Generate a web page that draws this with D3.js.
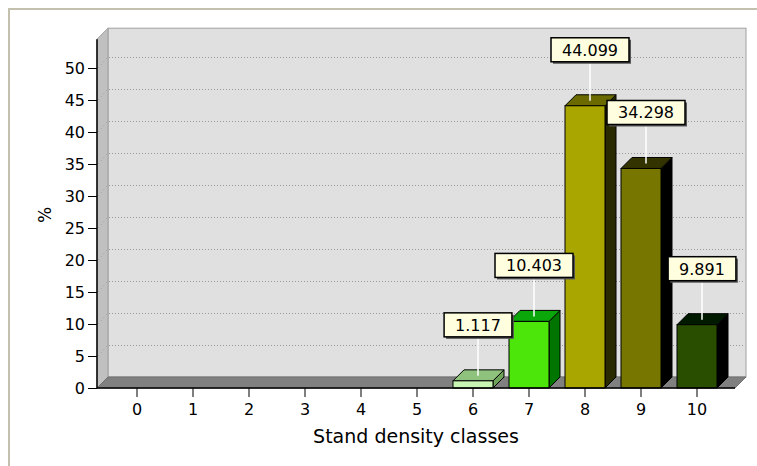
<!DOCTYPE html>
<html><head><meta charset="utf-8">
<script src="https://cdn.jsdelivr.net/npm/d3@7"></script>
<style>
html,body{margin:0;padding:0;background:#fff;}
text{font-family:"DejaVu Sans",sans-serif;fill:#000;}
</style></head>
<body>
<svg id="chart" width="757" height="466"></svg>
<script>
const categories = ["0","1","2","3","4","5","6","7","8","9","10"];
const values = [0,0,0,0,0,0,1.117,10.403,44.099,34.298,9.891];
const valueLabels = ["","","","","","","1.117","10.403","44.099","34.298","9.891"];
const yTicks = [0,5,10,15,20,25,30,35,40,45,50];
const frontColors = ["#ccc","#ccc","#ccc","#ccc","#ccc","#ccc","#c8f4b4","#4ce60a","#aaa600","#767600","#2a4e00"];
const topColors   = ["#999","#999","#999","#999","#999","#999","#8fc27c","#0aa60a","#6a6a00","#333300","#001a00"];
const sideColors  = ["#777","#777","#777","#777","#777","#777","#6ea45a","#007600","#2a2a00","#000000","#000000"];
const xTitle = "Stand density classes";
const yTitle = "%";

const svg = d3.select("#chart");
const D = 11;               // 3D depth
const axisX = 97, floorY = 388;
const x = d3.scaleBand().domain(categories).range([109, 725]);
const y = d3.scaleLinear().domain([0, 50]).range([floorY, 68]);
const yTop = y(54.5);
const xRight = 735;
const barW = 40;

// outer frame
svg.append("rect").attr("x",9).attr("y",9).attr("width",760).attr("height",470)
  .attr("fill","none").attr("stroke","#c4c0ae").attr("stroke-width",2);

// back wall
svg.append("rect").attr("x",axisX+D).attr("y",yTop-D)
  .attr("width",xRight-axisX).attr("height",floorY-yTop)
  .attr("fill","#e0e0e0").attr("stroke","#a0a0a0").attr("stroke-width",1);
// side wall
svg.append("polygon")
  .attr("points",[[axisX,floorY],[axisX,yTop],[axisX+D,yTop-D],[axisX+D,floorY-D]].join(" "))
  .attr("fill","#c0c0c0").attr("stroke","#a0a0a0").attr("stroke-width",1);
// floor
svg.append("polygon")
  .attr("points",[[axisX,floorY],[xRight,floorY],[xRight+D,floorY-D],[axisX+D,floorY-D]].join(" "))
  .attr("fill","#808080").attr("stroke","#707070").attr("stroke-width",1);

// gridlines
yTicks.filter(t=>t>0).forEach(t=>{
  svg.append("line").attr("x1",axisX+D+1).attr("x2",xRight+D-1)
    .attr("y1",y(t)-D+0.5).attr("y2",y(t)-D+0.5)
    .attr("stroke","#999").attr("stroke-dasharray","1,2");
  svg.append("line").attr("x1",axisX+1).attr("x2",axisX+D)
    .attr("y1",y(t)).attr("y2",y(t)-D)
    .attr("stroke","#999").attr("stroke-dasharray","1,3");
});

// bars
categories.forEach((c,i)=>{
  const v = values[i];
  if (v <= 0) return;
  const cx = x(c) + x.bandwidth()/2;
  const l = cx - barW/2, r = cx + barW/2, t = y(v);
  svg.append("polygon")
    .attr("points",[[r,t],[r+D,t-D],[r+D,floorY-D],[r,floorY]].join(" "))
    .attr("fill",sideColors[i]).attr("stroke","#000").attr("stroke-width",1);
  svg.append("polygon")
    .attr("points",[[l,t],[r,t],[r+D,t-D],[l+D,t-D]].join(" "))
    .attr("fill",topColors[i]).attr("stroke","#000").attr("stroke-width",1);
  svg.append("rect").attr("x",l).attr("y",t).attr("width",barW).attr("height",floorY-t)
    .attr("fill",frontColors[i]).attr("stroke","#000").attr("stroke-width",1);
});

// axes
const yAxis = d3.axisLeft(y).tickValues(yTicks).tickSize(9).tickPadding(3);
const gy = svg.append("g").attr("transform",`translate(${axisX},0)`).call(yAxis);
gy.select(".domain").remove();
gy.selectAll("text").style("font-size","16px").style("font-family","DejaVu Sans");
svg.append("line").attr("x1",axisX).attr("x2",axisX).attr("y1",yTop).attr("y2",floorY+0.5)
  .attr("stroke","#000").attr("stroke-width",1.5);

const xAxis = d3.axisBottom(x).tickSize(9).tickPadding(7);
const gx = svg.append("g").attr("transform",`translate(0,${floorY})`).call(xAxis);
gx.select(".domain").remove();
gx.selectAll("text").style("font-size","16px").style("font-family","DejaVu Sans");
svg.append("line").attr("x1",axisX).attr("x2",xRight).attr("y1",floorY).attr("y2",floorY)
  .attr("stroke","#000").attr("stroke-width",1.5);

// titles
svg.append("text").attr("x",(axisX+xRight)/2).attr("y",443).attr("text-anchor","middle")
  .style("font-size","19px").text(xTitle);
svg.append("text").attr("transform","translate(51,215) rotate(-90)").attr("text-anchor","middle")
  .style("font-size","17px").text(yTitle);

// value labels
categories.forEach((c,i)=>{
  const v = values[i];
  if (v <= 0) return;
  const lx = x(c) + x.bandwidth()/2 + 5;
  const t = y(v);
  const g = svg.append("g");
  const txt = g.append("text").attr("x",lx).attr("y",t-68+18).attr("text-anchor","middle")
    .style("font-size","16px").text(valueLabels[i]);
  const w = txt.node().getComputedTextLength() + 22;
  g.insert("line","text").attr("x1",lx).attr("x2",lx).attr("y1",t-44).attr("y2",t-5)
    .attr("stroke","#fff").attr("stroke-width",1.5);
  g.insert("rect","text").attr("x",lx-w/2+2).attr("y",t-68+2).attr("width",w).attr("height",24)
    .attr("fill","#555");
  g.insert("rect","text").attr("x",lx-w/2).attr("y",t-68).attr("width",w).attr("height",24)
    .attr("fill","#ffffe0").attr("stroke","#000").attr("stroke-width",1.5);
});
</script>
</body></html>
